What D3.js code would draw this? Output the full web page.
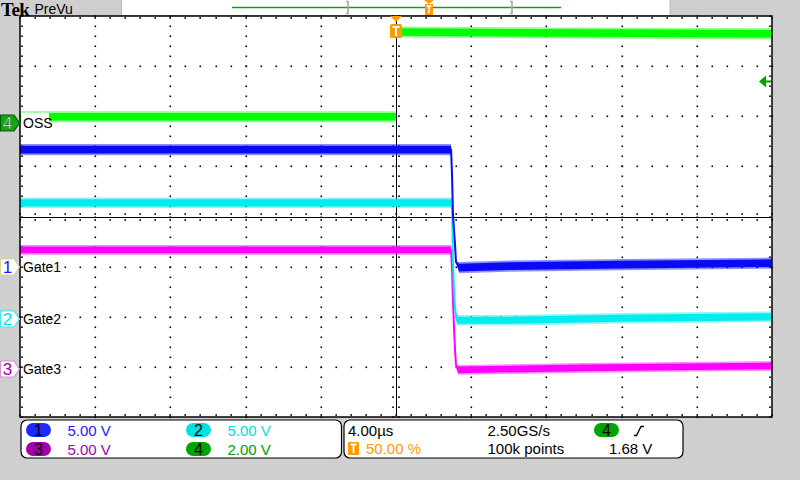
<!DOCTYPE html>
<html><head><meta charset="utf-8">
<script src="https://cdn.jsdelivr.net/npm/d3@7"></script>
<style>body{margin:0;background:#cfcfcf;overflow:hidden}</style>
</head><body><svg id="c" width="800" height="480"></svg>
<script>
// ---- data (time in µs, values in volts) ----
const ch1Time  = [-20, 2.93, 2.98, 3.03, 3.14, 3.19, 3.35, 6, 12, 20];
const ch1Volts = [11.67, 11.67, 9.2, 5.2, 2.2, 0.5, -0.1, 0.05, 0.2, 0.35];
const ch1Noise = [0.38, 0.38, 0, 0, 0, 0, 0.38, 0.38, 0.38, 0.38];

const ch2Time  = [-20, 2.98, 3.03, 3.08, 3.14, 3.24, 6, 12, 20];
const ch2Volts = [11.57, 11.57, 6.0, 3.0, 1.0, -0.15, -0.15, 0.05, 0.2];
const ch2Noise = [0.36, 0.36, 0, 0, 0, 0.36, 0.36, 0.36, 0.36];

const ch3Time  = [-20, 2.93, 2.98, 3.03, 3.09, 3.14, 3.19, 3.3, 10, 20];
const ch3Volts = [11.87, 11.87, 10.0, 6.9, 3.9, 1.9, 0.4, -0.1, 0.1, 0.3];
const ch3Noise = [0.33, 0.33, 0, 0, 0, 0, 0, 0.33, 0.33, 0.33];

const ch4Time  = [-20, -0.02, 0.02, 10, 20];
const ch4Volts = [0.24, 0.24, 3.62, 3.58, 3.55];
const ch4Noise = [0.15, 0.15, 0.15, 0.15, 0.15];
const ch4GapAfter = 1;   // instantaneous edge: acquisition shows no connecting samples

const channelNumbers = [1, 2, 3, 4];
const channelLabels  = ["Gate1", "Gate2", "Gate3", "OSS"];
const voltsPerDiv    = [5, 5, 5, 2];
const groundDiv      = [-1.0, -2.04, -3.04, 1.87];
const scaleLabels    = ["5.00 V", "5.00 V", "5.00 V", "2.00 V"];
const timeDomain     = [-20, 20];   // µs, 4.00 µs/div
const triggerLevel   = 1.68;        // V on ch4
const horizReadouts  = ["4.00\u00b5s", "50.00 %", "2.50GS/s", "100k points", "1.68 V"];

// ---- styles ----
const traceColors = ["#0a0af5", "#00eded", "#ff00ff", "#00ff00"];
const badgeColors = ["#1e28ff", "#00e2e2", "#a000a8", "#00a400"];
const textColors  = ["#2020ff", "#00e0e0", "#a000a8", "#00a000"];
const markerStroke = ["#d8d890", "#40e8e8", "#d090d8", "#006000"];
const ORANGE = "#ff9a00";

const svg = d3.select("#c");
const L = 20, R = 772, T = 16, B = 417;
const x = d3.scaleLinear().domain(timeDomain).range([L, R]);
const yd = d3.scaleLinear().domain([-4, 4]).range([B, T]);

// background
svg.append("rect").attr("width", 800).attr("height", 480).attr("fill", "#cfcfcf");

// header
svg.append("text").attr("x", 1).attr("y", 16).attr("font-family", "Liberation Serif")
  .attr("font-weight", "bold").attr("font-size", 19).attr("letter-spacing", -0.5).text("Tek");
svg.append("text").attr("x", 34.5).attr("y", 14).attr("font-family", "Liberation Sans")
  .attr("font-size", 14).text("PreVu");
svg.append("rect").attr("x", 121.5).attr("y", -1).attr("width", 548.5).attr("height", 16.5)
  .attr("fill", "#fff").attr("stroke", "#b8b8b8");
svg.append("line").attr("x1", 232).attr("x2", 561).attr("y1", 7.5).attr("y2", 7.5)
  .attr("stroke", "#10a010").attr("stroke-width", 1.3);
[347, 511].forEach(bx => {
  svg.append("path").attr("d", `M${bx - 1},1.5 H${bx + 1} V13.5 H${bx - 1}`)
    .attr("fill", "none").attr("stroke", "#a8a8a8").attr("stroke-width", 1.6);
});
svg.append("path").attr("d", "M424,0 H434 L429,4 Z").attr("fill", ORANGE);
svg.append("rect").attr("x", 425).attr("y", 4).attr("width", 8).attr("height", 11).attr("fill", ORANGE);
svg.append("path").attr("d", "M426.5,6 H431.5 M429,6 V13.5").attr("stroke", "#fff").attr("stroke-width", 1.4);

// plot area
svg.append("rect").attr("x", L).attr("y", T).attr("width", R - L).attr("height", B - T).attr("fill", "#fff");
const grid = svg.append("g");
const minorX = d3.range(timeDomain[0], timeDomain[1] + 1e-9, 0.8);
const minorY = d3.range(-4, 4 + 1e-9, 0.2);
const majorX = d3.range(-16, 17, 4).filter(v => v !== 0);
const majorY = d3.range(-3, 4, 1).filter(v => v !== 0);
majorX.forEach(t => minorY.forEach(d => {
  grid.append("rect").attr("x", Math.round(x(t)) - 0.5).attr("y", Math.round(yd(d)) - 0.5)
    .attr("width", 1.6).attr("height", 1.6).attr("fill", "#000");
}));
majorY.forEach(d => minorX.forEach(t => {
  grid.append("rect").attr("x", Math.round(x(t)) - 0.5).attr("y", Math.round(yd(d)) - 0.5)
    .attr("width", 1.6).attr("height", 1.6).attr("fill", "#000");
}));
// center lines
const cx = Math.round(x(0)) + 0.5, cy = Math.round(yd(0)) + 0.5;
grid.append("line").attr("x1", cx).attr("x2", cx).attr("y1", T).attr("y2", B).attr("stroke", "#000");
grid.append("line").attr("x1", L).attr("x2", R).attr("y1", cy).attr("y2", cy).attr("stroke", "#000");
minorY.forEach(d => {
  const yy = Math.round(yd(d));
  [-4, 2].forEach(o => grid.append("rect").attr("x", cx + o - 0.5).attr("y", yy - 0.5).attr("width", 2).attr("height", 1.3).attr("fill", "#000"));
  grid.append("rect").attr("x", L + 1).attr("y", yy - 0.5).attr("width", 2).attr("height", 1.3).attr("fill", "#000");
  grid.append("rect").attr("x", R - 3).attr("y", yy - 0.5).attr("width", 2).attr("height", 1.3).attr("fill", "#000");
});
minorX.forEach(t => {
  const xx = Math.round(x(t));
  [-4, 2].forEach(o => grid.append("rect").attr("x", xx - 0.5).attr("y", cy + o - 0.5).attr("width", 1.3).attr("height", 2).attr("fill", "#000"));
  grid.append("rect").attr("x", xx - 0.5).attr("y", T + 1).attr("width", 1.3).attr("height", 2).attr("fill", "#000");
  grid.append("rect").attr("x", xx - 0.5).attr("y", B - 3).attr("width", 1.3).attr("height", 2).attr("fill", "#000");
});

// traces
const chData = [
  [ch1Time, ch1Volts, ch1Noise, -1],
  [ch2Time, ch2Volts, ch2Noise, -1],
  [ch3Time, ch3Volts, ch3Noise, -1],
  [ch4Time, ch4Volts, ch4Noise, ch4GapAfter]
];
const drawOrder = [3, 2, 1, 0];
drawOrder.forEach(i => {
  const [tt, vv, nn, gap] = chData[i];
  const pts = tt.map((t, k) => ({t, v: vv[k], n: nn[k]}));
  const segs = gap >= 0 ? [pts.slice(0, gap + 1), pts.slice(gap + 1)] : [pts];
  const yv = v => yd(groundDiv[i] + v / voltsPerDiv[i]);
  segs.forEach(seg => {
    const band = d3.area().x(d => x(d.t)).y0(d => yv(d.v - d.n * 1.45)).y1(d => yv(d.v + d.n * 1.45));
    svg.append("path").attr("d", band(seg)).attr("fill", traceColors[i]).attr("opacity", 0.45);
    const core = d3.area().x(d => x(d.t)).y0(d => yv(d.v - d.n)).y1(d => yv(d.v + d.n));
    svg.append("path").attr("d", core(seg)).attr("fill", traceColors[i]);
    const ln = d3.line().x(d => x(d.t)).y(d => yv(d.v));
    svg.append("path").attr("d", ln(seg)).attr("fill", "none").attr("stroke", traceColors[i]).attr("stroke-width", 2);
  });
});

// channel labels inside plot
channelLabels.forEach((lab, i) => {
  const gy = yd(groundDiv[i]);
  if (i === 3) {
    svg.append("rect").attr("x", L + 1).attr("y", gy - 10).attr("width", 28).attr("height", 18).attr("fill", "#fff");
  }
  svg.append("text").attr("x", L + 3).attr("y", gy + 5).attr("font-family", "Liberation Sans")
    .attr("font-size", 14).attr("fill", "#000").text(lab);
});
// plot border
svg.append("rect").attr("x", L).attr("y", T).attr("width", R - L).attr("height", B - T)
  .attr("fill", "none").attr("stroke", "#000").attr("stroke-width", 1.5);

// ground markers
channelNumbers.forEach((n, i) => {
  const gy = Math.round(yd(groundDiv[i]));
  const g = svg.append("g");
  g.append("path").attr("d", `M0.5,${gy - 8} H14 L19.5,${gy} L14,${gy + 8} H0.5 Z`)
    .attr("fill", i === 3 ? "#12a812" : "#fff").attr("stroke", markerStroke[i]).attr("stroke-width", 1.2);
  g.append("text").attr("x", 7.5).attr("y", gy + 6).attr("text-anchor", "middle")
    .attr("font-family", "Liberation Sans").attr("font-size", 17)
    .attr("fill", i === 3 ? "#fff" : textColors[i])
    .attr("stroke", i === 3 ? "#004000" : "none").attr("stroke-width", 0.4).text(n);
});

// trigger position marker
const tx = x(0);
svg.append("path").attr("d", `M${tx - 6},${T} H${tx + 6} L${tx},${T + 6} Z`).attr("fill", ORANGE);
svg.append("rect").attr("x", tx - 6).attr("y", T + 8).attr("width", 12).attr("height", 14).attr("rx", 1.5).attr("fill", ORANGE);
svg.append("path").attr("d", `M${tx - 3.5},${T + 11} H${tx + 3.5} M${tx},${T + 11} V${T + 20}`)
  .attr("stroke", "#fff").attr("stroke-width", 2);

// trigger level marker (ch4)
const ty = Math.round(yd(groundDiv[3] + triggerLevel / voltsPerDiv[3])) + 0.5;
svg.append("path").attr("d", `M${R - 13},${ty} L${R - 6},${ty - 6} V${ty + 6} Z`).attr("fill", "#00a000");
svg.append("line").attr("x1", R - 7).attr("x2", R - 1).attr("y1", ty).attr("y2", ty).attr("stroke", "#00a000").attr("stroke-width", 2);

// readout boxes
svg.append("rect").attr("x", 21).attr("y", 420).attr("width", 320.5).attr("height", 38).attr("rx", 6)
  .attr("fill", "#fff").attr("stroke", "#000").attr("stroke-width", 1.2);
svg.append("rect").attr("x", 344).attr("y", 420).attr("width", 339).attr("height", 38).attr("rx", 6)
  .attr("fill", "#fff").attr("stroke", "#000").attr("stroke-width", 1.2);

const badgePos = [[26, 430], [186, 430], [26, 449], [186, 449]];
channelNumbers.forEach((n, i) => {
  const [bx, by] = badgePos[i];
  svg.append("rect").attr("x", bx).attr("y", by - 7).attr("width", 25).attr("height", 14).attr("rx", 7)
    .attr("fill", badgeColors[i]);
  svg.append("text").attr("x", bx + 12.5).attr("y", by + 5.5).attr("text-anchor", "middle")
    .attr("font-family", "Liberation Sans").attr("font-size", 16).attr("fill", "#000").text(n);
  svg.append("text").attr("x", bx + 41.5).attr("y", by + 6).attr("font-family", "Liberation Sans")
    .attr("font-size", 15).attr("fill", textColors[i]).text(scaleLabels[i]);
});

const ff = "Liberation Sans";
svg.append("text").attr("x", 348).attr("y", 436).attr("font-family", ff).attr("font-size", 15).text(horizReadouts[0]);
svg.append("rect").attr("x", 348).attr("y", 442).attr("width", 11).attr("height", 13).attr("rx", 1).attr("fill", ORANGE);
svg.append("path").attr("d", "M350.5,444.5 H356.5 M353.5,444.5 V453").attr("stroke", "#fff").attr("stroke-width", 1.8);
svg.append("text").attr("x", 366).attr("y", 454).attr("font-family", ff).attr("font-size", 15).attr("fill", ORANGE).text(horizReadouts[1]);
svg.append("text").attr("x", 487.5).attr("y", 436).attr("font-family", ff).attr("font-size", 15).text(horizReadouts[2]);
svg.append("text").attr("x", 487.5).attr("y", 454).attr("font-family", ff).attr("font-size", 15).text(horizReadouts[3]);
svg.append("rect").attr("x", 594).attr("y", 423).attr("width", 25).attr("height", 14).attr("rx", 7).attr("fill", badgeColors[3]);
svg.append("text").attr("x", 606.5).attr("y", 435.5).attr("text-anchor", "middle").attr("font-family", ff).attr("font-size", 16).text(channelNumbers[3]);
svg.append("path").attr("d", "M634,435.5 H636.5 L641,426.5 H644").attr("fill", "none").attr("stroke", "#000").attr("stroke-width", 1.3);
svg.append("text").attr("x", 609).attr("y", 454).attr("font-family", ff).attr("font-size", 15).text(horizReadouts[4]);
</script></body></html>
